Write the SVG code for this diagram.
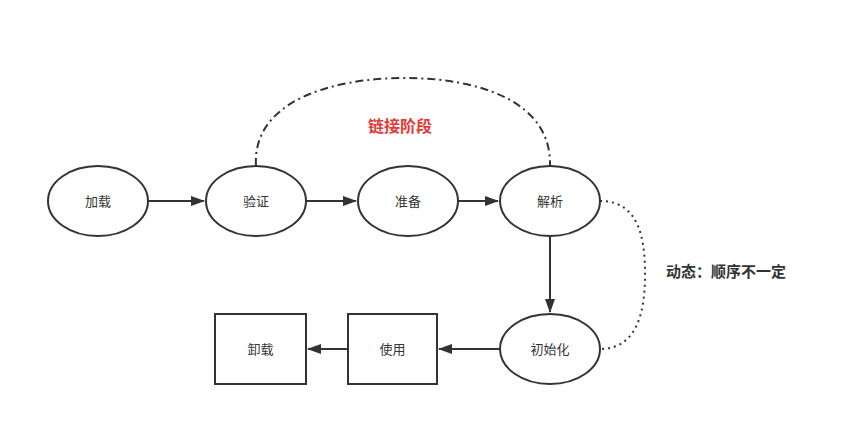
<svg xmlns="http://www.w3.org/2000/svg" width="863" height="445" viewBox="0 0 863 445">
<defs>
<marker id="ah" markerWidth="14" markerHeight="10" refX="13" refY="5" orient="auto" markerUnits="userSpaceOnUse">
<path d="M0,0 L14,5 L0,10 Z" fill="#333"/>
</marker>
<style>
.n{fill:#fff;stroke:#333;stroke-width:2}
.t{font-family:"Liberation Sans","Noto Sans CJK SC",sans-serif;font-size:13px;fill:#333;text-anchor:middle;dominant-baseline:central}
.c{fill:none;stroke:#333;stroke-width:2}
</style>
</defs>
<rect width="863" height="445" fill="#fff"/>
<g id="connectors">
<line class="c" x1="148" y1="201" x2="204" y2="201" marker-end="url(#ah)"/>
<line class="c" x1="306" y1="201" x2="356" y2="201" marker-end="url(#ah)"/>
<line class="c" x1="458" y1="201" x2="498" y2="201" marker-end="url(#ah)"/>
<line class="c" x1="550" y1="236" x2="550" y2="312" marker-end="url(#ah)"/>
<line class="c" x1="500" y1="349" x2="439" y2="349" marker-end="url(#ah)"/>
<line class="c" x1="348" y1="349" x2="308" y2="349" marker-end="url(#ah)"/>
<path class="c" d="M256,166 C252,102 330,78 405,78 C480,78 552,102 550,166" stroke-dasharray="8,4,2,4"/>
<path class="c" d="M600,201 C640,201 645,240 645,275 C645,310 638,349 600,349" stroke-dasharray="2,4"/>
</g>
<g id="n1"><ellipse class="n" cx="98" cy="201" rx="50" ry="35"/><text class="t" x="98" y="201">加载</text></g>
<g id="n2"><ellipse class="n" cx="256" cy="201" rx="50" ry="35"/><text class="t" x="256" y="201">验证</text></g>
<g id="n3"><ellipse class="n" cx="408" cy="201" rx="50" ry="35"/><text class="t" x="408" y="201">准备</text></g>
<g id="n4"><ellipse class="n" cx="550" cy="201" rx="50" ry="35"/><text class="t" x="550" y="201">解析</text></g>
<g id="n5"><ellipse class="n" cx="550" cy="349" rx="50" ry="35"/><text class="t" x="550" y="349">初始化</text></g>
<g id="n6"><rect class="n" x="348" y="314" width="89" height="70"/><text class="t" x="392.5" y="349">使用</text></g>
<g id="n7"><rect class="n" x="215" y="314" width="91" height="70"/><text class="t" x="260.5" y="349">卸载</text></g>
<g id="l1"><text x="400" y="126" font-family="Liberation Sans,Noto Sans CJK SC,sans-serif" font-size="16" font-weight="bold" fill="#e53935" text-anchor="middle" dominant-baseline="central">链接阶段</text></g>
<g id="l2"><text x="726" y="271" font-family="Liberation Sans,Noto Sans CJK SC,sans-serif" font-size="15" font-weight="bold" fill="#333" text-anchor="middle" dominant-baseline="central">动态：顺序不一定</text></g>
</svg>
